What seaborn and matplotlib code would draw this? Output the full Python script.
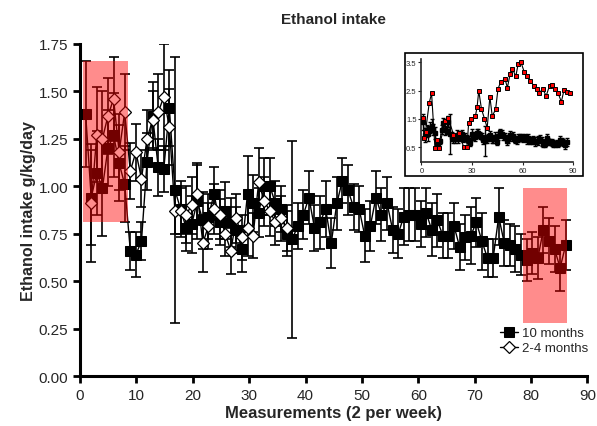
import matplotlib
matplotlib.use("Agg")
import matplotlib.pyplot as plt
from matplotlib.patches import Rectangle
import numpy as np
import pandas as pd
import seaborn as sns

sns.set_style("ticks")
plt.rcParams['font.family'] = ['Liberation Sans', 'DejaVu Sans']

# 10 months group, one value per measurement (1..87)
adult_mean = [1.38, 0.94, 1.07, 0.99, 1.20, 1.27, 1.12, 1.01, 0.66, 0.64,
              0.71, 1.13, 1.37, 1.10, 1.09, 1.41, 0.98, 0.88, 0.78, 0.80,
              0.92, 0.82, 0.84, 0.96, 0.81, 0.87, 0.81, 0.77, 0.67, 0.96,
              0.91, 0.86, 1.00, 1.00, 0.91, 0.88, 0.75, 0.72, 0.79, 0.85,
              0.94, 0.78, 0.81, 0.88, 0.70, 0.91, 1.03, 0.98, 0.89, 0.88,
              0.74, 0.79, 0.94, 0.85, 0.91, 0.77, 0.75, 0.84, 0.85, 0.85,
              0.80, 0.86, 0.77, 0.82, 0.74, 0.74, 0.79, 0.68, 0.73, 0.74,
              0.81, 0.71, 0.62, 0.62, 0.84, 0.70, 0.69, 0.67, 0.64, 0.61,
              0.65, 0.62, 0.77, 0.71, 0.67, 0.57, 0.69]
adult_sem = [0.28, 0.25, 0.22, 0.25, 0.20, 0.22, 0.20, 0.20, 0.10, 0.12,
             0.10, 0.15, 0.18, 0.15, 0.12, 0.20, 0.70, 0.15, 0.12, 0.15,
             0.20, 0.15, 0.12, 0.14, 0.12, 0.15, 0.13, 0.12, 0.12, 0.20,
             0.15, 0.13, 0.15, 0.15, 0.12, 0.12, 0.12, 0.52, 0.12, 0.13,
             0.14, 0.12, 0.14, 0.15, 0.13, 0.14, 0.12, 0.13, 0.12, 0.12,
             0.14, 0.13, 0.14, 0.14, 0.14, 0.12, 0.13, 0.15, 0.14, 0.14,
             0.12, 0.13, 0.14, 0.14, 0.12, 0.12, 0.12, 0.12, 0.12, 0.15,
             0.13, 0.15, 0.10, 0.10, 0.15, 0.12, 0.11, 0.12, 0.11, 0.11,
             0.11, 0.11, 0.12, 0.12, 0.12, 0.12, 0.13]

# 2-4 months group, measurements 2..37
young_mean = [0.91, 1.27, 1.25, 1.37, 1.46, 1.18, 1.39, 1.08, 1.18, 1.04,
              1.25, 1.35, 1.39, 1.47, 1.31, 0.87, 0.87, 0.85, 0.90, 0.96,
              0.70, 0.79, 0.88, 0.85, 0.75, 0.66, 0.83, 0.73, 0.78, 0.74,
              1.02, 0.92, 0.87, 0.81, 0.83, 0.78]
young_sem = [0.31, 0.25, 0.25, 0.20, 0.22, 0.20, 0.20, 0.15, 0.15, 0.15,
             0.15, 0.15, 0.20, 0.28, 0.20, 0.12, 0.12, 0.15, 0.15, 0.15,
             0.15, 0.12, 0.13, 0.13, 0.12, 0.12, 0.13, 0.12, 0.15, 0.12,
             0.18, 0.13, 0.13, 0.12, 0.12, 0.12]

# inset: long-term group (red)
inset_x = [1, 1.4, 2.4, 4.6, 6, 8, 9.2, 10.4, 14, 16, 19, 22, 25, 27, 28,
           29.6, 32, 33, 34, 35.6, 37.4, 39, 40.6, 42, 44, 45.4, 47, 49.6,
           51, 52.6, 54, 56, 57.4, 59, 61, 62.6, 64.6, 66.6, 68.6, 70, 72,
           74, 76, 77.4, 79.4, 81, 83, 84.6, 86.2, 88]
inset_y = [1.54, 0.83, 1.05, 2.07, 2.40, 0.47, 0.76, 0.47, 1.42, 1.52, 0.95,
           1.00, 0.53, 0.53, 1.36, 1.50, 1.60, 1.92, 2.49, 1.85, 1.51, 1.19,
           2.28, 1.60, 1.84, 2.55, 2.81, 2.90, 2.60, 3.08, 3.26, 3.00, 3.44,
           3.50, 3.15, 3.00, 2.85, 2.67, 2.55, 2.43, 2.55, 2.31, 2.67, 2.70,
           2.55, 2.43, 2.10, 2.52, 2.45, 2.43]

step = 0.99
adult = pd.DataFrame({'x': 1 + step * np.arange(len(adult_mean)),
                      'y': adult_mean, 'e': adult_sem})
young = pd.DataFrame({'x': 1 + step * np.arange(1, len(young_mean) + 1),
                      'y': young_mean, 'e': young_sem})

fig = plt.figure(figsize=(5.97, 4.27), dpi=100)
ax = fig.add_axes([0.134, 0.117, 0.850, 0.778])

ax.errorbar(adult['x'], adult['y'], yerr=adult['e'], fmt='none', ecolor='black',
            elinewidth=1.2, capsize=3.5, capthick=1.2, zorder=2)
sns.lineplot(data=adult, x='x', y='y', color='black', lw=1, marker='s',
             markersize=6.5, markeredgecolor='black', label='10 months', ax=ax, zorder=3)
ax.errorbar(young['x'], young['y'], yerr=young['e'], fmt='none', ecolor='black',
            elinewidth=1.2, capsize=3.5, capthick=1.2, zorder=4)
sns.lineplot(data=young, x='x', y='y', color='black', lw=1, marker='D',
             markersize=6, markerfacecolor='white', markeredgecolor='black',
             markeredgewidth=0.9, label='2-4 months', ax=ax, zorder=5)

ax.add_patch(Rectangle((0.5, 0.81), 7.95, 0.85, facecolor='red', alpha=0.45, lw=0, zorder=10))
ax.add_patch(Rectangle((78.5, 0.28), 7.9, 0.71, facecolor='red', alpha=0.45, lw=0, zorder=10))

ax.set_xlim(0, 90)
ax.set_ylim(0, 1.75)
ax.set_xticks(range(0, 91, 10))
ax.set_yticks(np.arange(0, 1.76, 0.25))
ax.set_yticklabels([f'{v:.2f}' for v in np.arange(0, 1.76, 0.25)])
ax.tick_params(axis='both', labelsize=11, width=2, length=5, color='black')
for s in ['left', 'bottom']:
    ax.spines[s].set_linewidth(2.2)
    ax.spines[s].set_color('black')
sns.despine(ax=ax)
ax.set_title('Ethanol intake', fontsize=11, fontweight='bold', pad=15)
ax.set_xlabel('Measurements (2 per week)', fontsize=12, fontweight='bold', labelpad=2)
ax.set_ylabel('Ethanol intake g/kg/day', fontsize=11.5, fontweight='bold', labelpad=2)
ax.legend(loc='lower right', bbox_to_anchor=(1.025, 0.03), frameon=False, fontsize=9.5,
          handlelength=1.4, handletextpad=0.3, labelspacing=0.2)

# inset
fig.patches.append(Rectangle((0.678, 0.585), 0.299, 0.289, transform=fig.transFigure,
                             fill=False, edgecolor='black', lw=1.2))
ins = fig.add_axes([0.706, 0.619, 0.254, 0.240])
ins.errorbar(adult['x'], adult['y'], yerr=adult['e'], fmt='none', ecolor='black',
             elinewidth=1.0, capsize=1.5, zorder=2)
ins.plot(adult['x'], adult['y'], color='black', lw=0.8, marker='s', ms=3.2, zorder=3)
ins.plot(inset_x, inset_y, color='black', lw=0.8, marker='s', ms=3.2,
         markerfacecolor='red', markeredgecolor='black', markeredgewidth=0.7, zorder=4)
ins.set_xlim(0, 90)
ins.set_ylim(0, 3.6)
ins.set_xticks([0, 30, 60, 90])
ins.set_yticks([0.5, 1.5, 2.5, 3.5])
ins.tick_params(labelsize=5.5, width=0.8, length=2, pad=1.5)
for s in ['left', 'bottom']:
    ins.spines[s].set_linewidth(1.2)
sns.despine(ax=ins)

fig.savefig('out.png', dpi=100)
